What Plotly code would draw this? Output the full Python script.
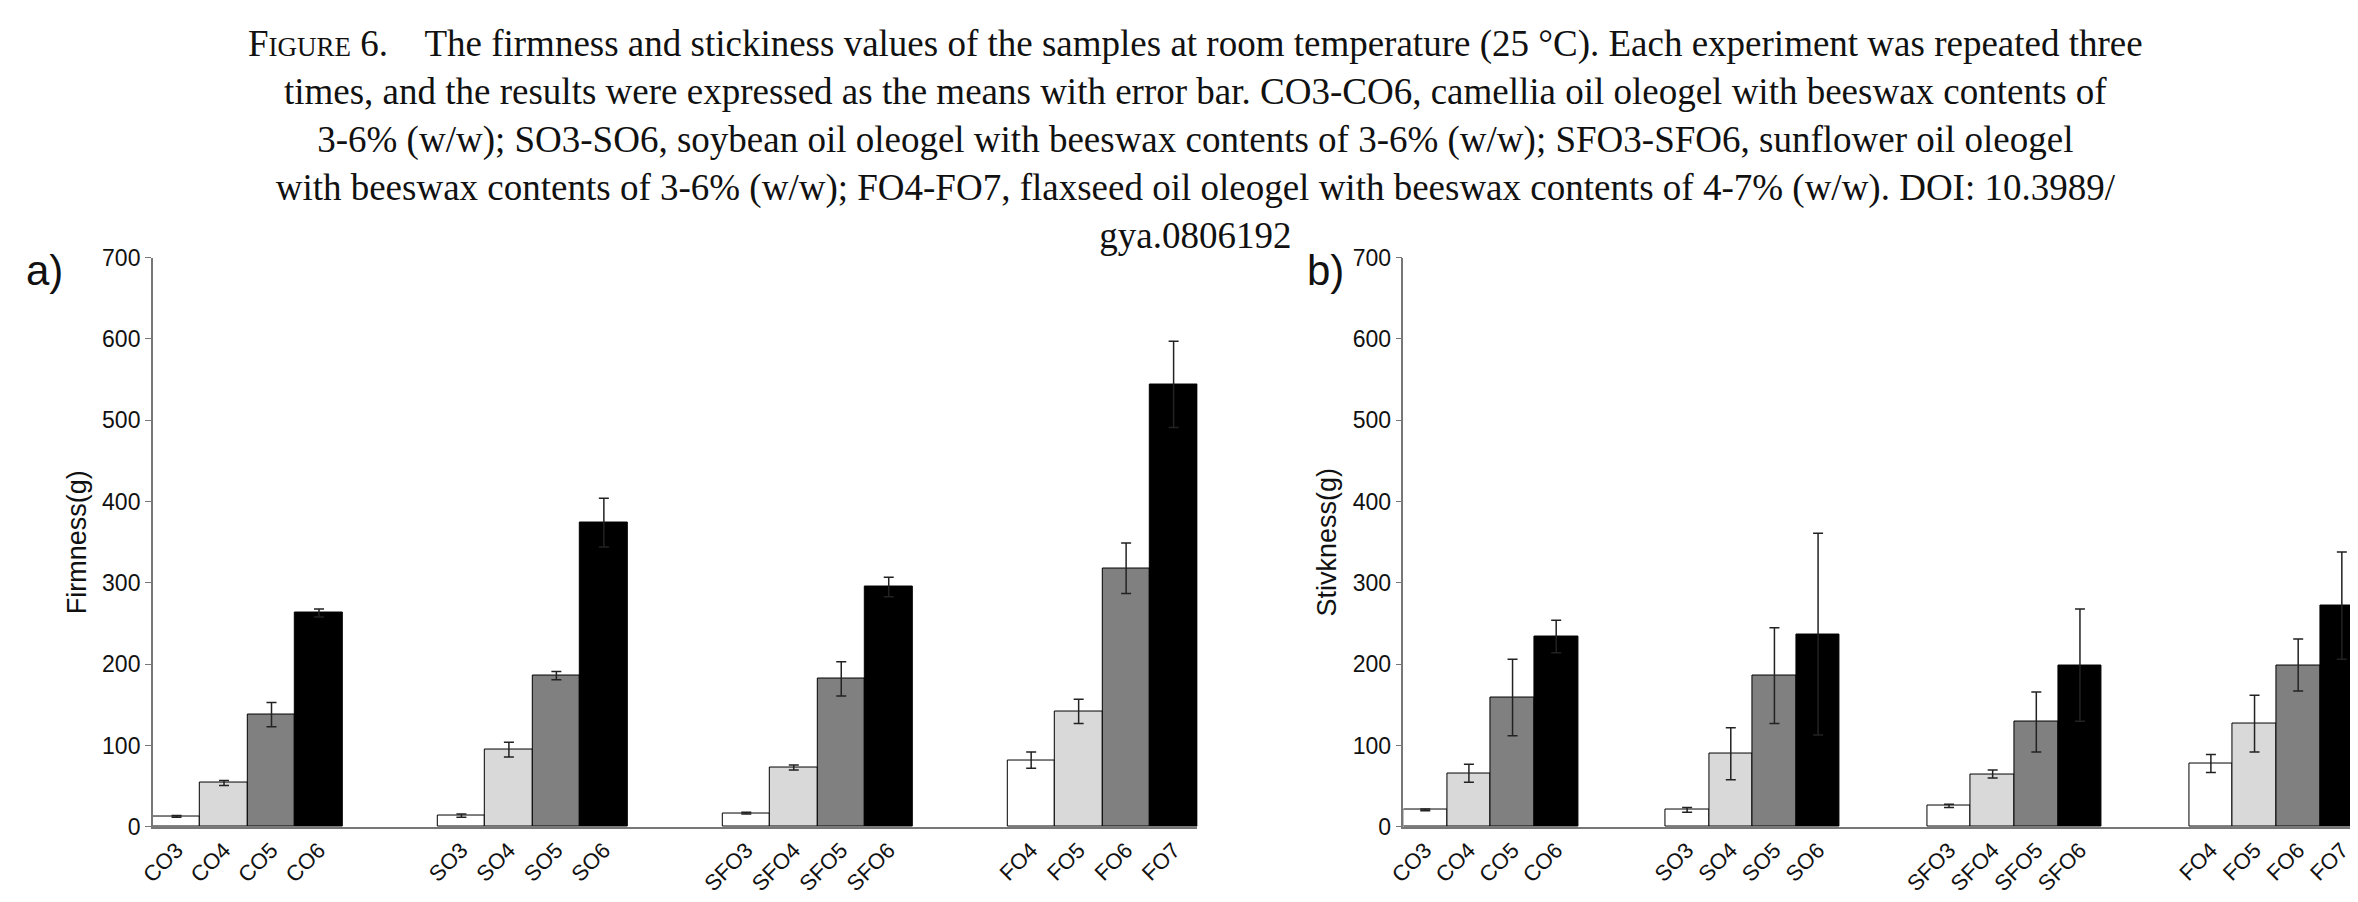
import plotly.graph_objects as go

groups = ["CO", "SO", "SFO", "FO"]
labels = ["CO3", "CO4", "CO5", "CO6", "SO3", "SO4", "SO5", "SO6",
          "SFO3", "SFO4", "SFO5", "SFO6", "FO4", "FO5", "FO6", "FO7"]

# firmness (g), mean and error, per group (4 bars each)
firm = [13, 54, 138, 263, 14, 95, 186, 374, 17, 73, 182, 295, 82, 142, 318, 544]
firm_err = [1, 3, 15, 5, 2, 9, 5, 30, 1, 3, 21, 12, 10, 15, 31, 53]
# stickiness (g)
stick = [21, 66, 159, 234, 21, 90, 186, 237, 26, 65, 129, 199, 78, 127, 199, 272]
stick_err = [1, 11, 47, 20, 3, 32, 59, 124, 2, 5, 37, 69, 11, 35, 32, 66]

colors = ["#ffffff", "#d9d9d9", "#808080", "#000000"]

caption = ("F<span style='font-size:27px'>IGURE</span> 6.    The firmness and stickiness values of the samples at room temperature (25 °C). Each experiment was repeated three<br>"
           "times, and the results were expressed as the means with error bar. CO3-CO6, camellia oil oleogel with beeswax contents of<br>"
           "3-6% (w/w); SO3-SO6, soybean oil oleogel with beeswax contents of 3-6% (w/w); SFO3-SFO6, sunflower oil oleogel<br>"
           "with beeswax contents of 3-6% (w/w); FO4-FO7, flaxseed oil oleogel with beeswax contents of 4-7% (w/w). DOI: 10.3989/<br>"
           "gya.0806192")

# x position of each bar: 4 bars per group, 2 empty slots between groups
xpos = [g * 6 + i for g in range(len(groups)) for i in range(4)]

fig = go.Figure()
for vals, errs, xa, ya in [(firm, firm_err, "x", "y"), (stick, stick_err, "x2", "y2")]:
    fig.add_trace(go.Bar(
        x=xpos, y=vals, xaxis=xa, yaxis=ya, width=1,
        marker=dict(color=[colors[i % 4] for i in range(len(vals))],
                    line=dict(color="#000000", width=1)),
        error_y=dict(type="data", array=errs, visible=True, color="#222222", thickness=1.5, width=5),
        showlegend=False))

axis_common = dict(showgrid=False, zeroline=False, showline=True, linecolor="#777777", linewidth=1.5)
xcommon = dict(axis_common, tickmode="array", tickvals=xpos, ticktext=labels, tickangle=-45,
               range=[-0.5, 21.5], ticks="", tickfont=dict(family="Liberation Sans", size=22, color="#111"))
ycommon = dict(axis_common, range=[0, 700], dtick=100, ticks="outside", ticklen=6, tickcolor="#777777",
               tickfont=dict(family="Liberation Sans", size=23, color="#111"))

fig.update_layout(
    width=2358, height=902, paper_bgcolor="white", plot_bgcolor="white",
    margin=dict(l=0, r=0, t=0, b=0), bargap=0,
    xaxis=dict(xcommon, domain=[0.055, 0.501], anchor="y"),
    yaxis=dict(ycommon, domain=[0.08, 0.73], anchor="x",
               title=dict(text="Firmness(g)", font=dict(family="Liberation Sans", size=27, color="#111"), standoff=8)),
    xaxis2=dict(xcommon, domain=[0.589, 0.999], anchor="y2"),
    yaxis2=dict(ycommon, domain=[0.08, 0.73], anchor="x2",
                title=dict(text="Stivkness(g)", font=dict(family="Liberation Sans", size=27, color="#111"), standoff=8)),
    annotations=[
        dict(text=caption, x=0.5, y=1.0, xref="paper", yref="paper", xanchor="center", yanchor="top",
             showarrow=False, align="center", font=dict(family="Liberation Serif", size=37, color="#111")),
        dict(text="a)", x=0.0, y=0.715, xref="paper", yref="paper", xanchor="left", yanchor="middle",
             showarrow=False, font=dict(family="Liberation Sans", size=42, color="#111")),
        dict(text="b)", x=0.547, y=0.715, xref="paper", yref="paper", xanchor="left", yanchor="middle",
             showarrow=False, font=dict(family="Liberation Sans", size=42, color="#111")),
    ],
)

fig.write_html("out.html")
